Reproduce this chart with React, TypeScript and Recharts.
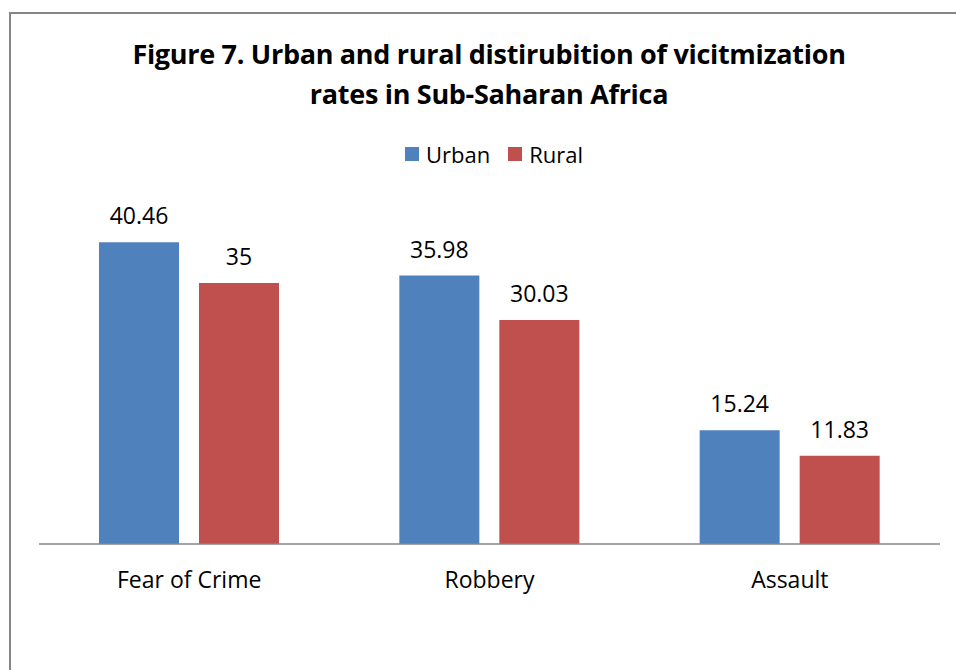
import React from "react";
import { BarChart, Bar, XAxis, YAxis, LabelList } from "recharts";

const categories = ["Fear of Crime", "Robbery", "Assault"];
const urbanValues = [40.46, 35.98, 15.24];
const ruralValues = [35, 30.03, 11.83];
const seriesNames = ["Urban", "Rural"];
const seriesColors = ["#4F81BD", "#C0504D"];
const titleLines = [
  "Figure 7. Urban and rural distirubition of vicitmization",
  "rates in Sub-Saharan Africa",
];

const data = categories.map((c, i) => ({
  name: c,
  Urban: urbanValues[i],
  Rural: ruralValues[i],
}));

const FONT = "'Open Sans', 'Noto Sans', sans-serif";

export default function App() {
  return (
    <div
      style={{
        position: "absolute",
        left: 0,
        top: 0,
        width: 956,
        height: 670,
        overflow: "hidden",
        background: "#fff",
        fontFamily: FONT,
      }}
    >
      <div
        style={{
          position: "absolute",
          left: 9,
          top: 12,
          width: 947,
          height: 658,
          boxSizing: "border-box",
          borderLeft: "2px solid #868686",
          borderTop: "2px solid #868686",
        }}
      />
      <div
        style={{
          position: "absolute",
          left: 0,
          top: 34,
          width: 978,
          textAlign: "center",
          fontWeight: 700,
          fontSize: 27,
          lineHeight: "40px",
          color: "#000",
          letterSpacing: -0.3,
        }}
      >
        {titleLines.map((t) => (
          <div key={t}>{t}</div>
        ))}
      </div>
      <div
        style={{
          position: "absolute",
          left: 0,
          top: 139,
          width: 988,
          display: "flex",
          justifyContent: "center",
          alignItems: "center",
          fontSize: 22,
          color: "#000",
          lineHeight: "30px",
        }}
      >
        {seriesNames.map((n, i) => (
          <div key={n} style={{ display: "flex", alignItems: "center", marginRight: i === 0 ? 18 : 0 }}>
            <span
              style={{
                display: "inline-block",
                width: 14,
                height: 14,
                background: seriesColors[i],
                marginRight: 7,
              }}
            />
            <span>{n}</span>
          </div>
        ))}
      </div>
      <BarChart
        width={956}
        height={670}
        data={data}
        margin={{ top: 171, right: 16, bottom: 86, left: 39 }}
        barCategoryGap="20%"
        barGap={20}
        style={{ position: "absolute", left: 0, top: 0 }}
      >
        <XAxis
          dataKey="name"
          height={40}
          axisLine={{ stroke: "#868686", strokeWidth: 1.5 }}
          tickLine={false}
          tickMargin={22}
          tick={{ fill: "#000", fontSize: 23, fontFamily: FONT }}
        />
        <YAxis hide domain={[0, 50]} />
        <Bar dataKey="Urban" fill={seriesColors[0]} barSize={80} isAnimationActive={false}>
          <LabelList dataKey="Urban" position="top" offset={18} fill="#000" fontSize={23} fontFamily={FONT} />
        </Bar>
        <Bar dataKey="Rural" fill={seriesColors[1]} barSize={80} isAnimationActive={false}>
          <LabelList dataKey="Rural" position="top" offset={18} fill="#000" fontSize={23} fontFamily={FONT} />
        </Bar>
      </BarChart>
    </div>
  );
}
